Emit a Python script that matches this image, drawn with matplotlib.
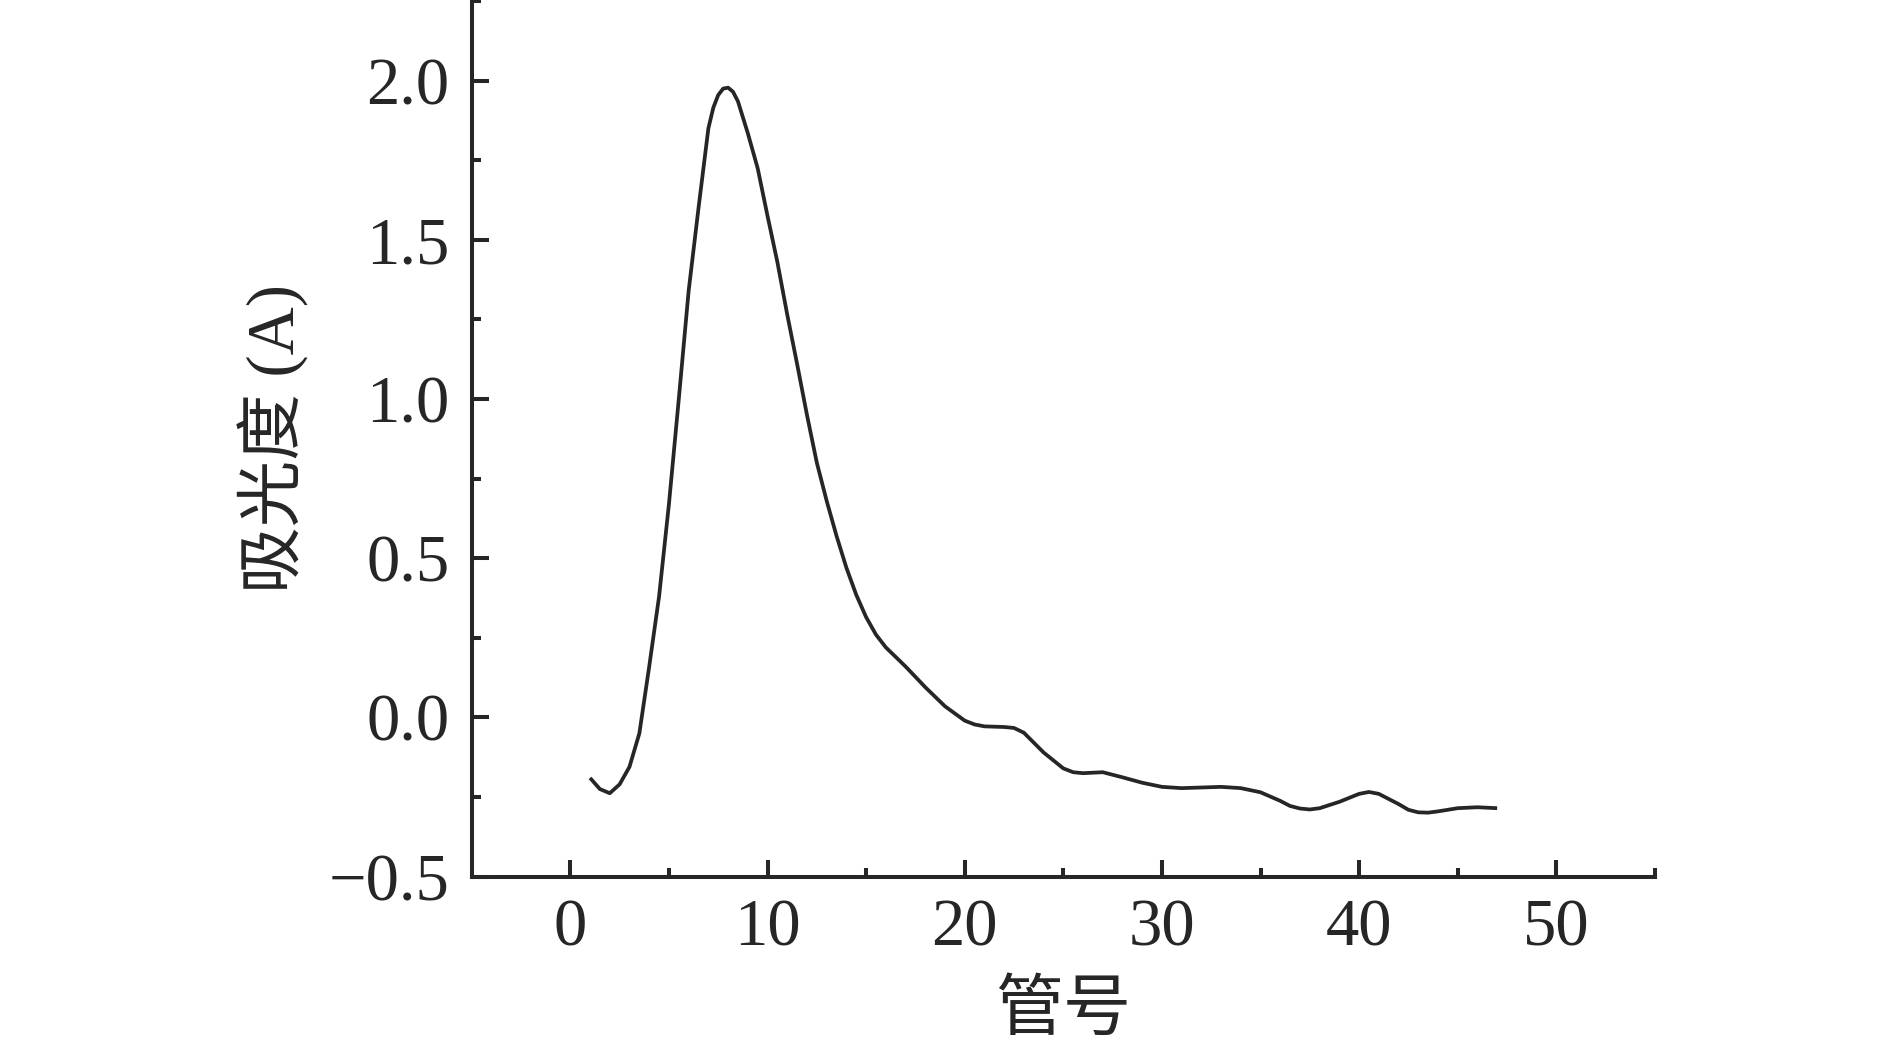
import matplotlib.pyplot as plt
from matplotlib.ticker import MultipleLocator

# tube number and absorbance
tube = [1, 1.5, 2, 2.5, 3, 3.5, 4, 4.5, 5, 5.5, 6, 6.5, 7, 7.25, 7.5, 7.75, 8, 8.25, 8.5, 9, 9.5,
        10, 10.5, 11, 11.5, 12, 12.5, 13, 13.5, 14, 14.5, 15, 15.5, 16,
        17, 18, 19, 20, 20.5, 21, 22, 22.5, 23, 24, 25, 25.5, 26, 27, 28, 29, 30, 31, 32, 33,
        34, 35, 36, 36.5, 37, 37.5, 38, 39, 40, 40.5, 41, 42, 42.5, 43, 43.5, 44, 45, 46, 47]
absorb = [-0.19, -0.225, -0.238, -0.21, -0.155, -0.05, 0.16, 0.38, 0.67, 1.0,
          1.34, 1.60, 1.85, 1.915, 1.955, 1.975, 1.978, 1.965, 1.935, 1.835, 1.725,
          1.575, 1.43, 1.265, 1.11, 0.95, 0.80, 0.68, 0.57, 0.47, 0.385, 0.315, 0.26, 0.22,
          0.16, 0.095, 0.035, -0.01, -0.022, -0.028, -0.03, -0.033, -0.048, -0.11, -0.16, -0.172,
          -0.175, -0.172, -0.188, -0.205, -0.218, -0.222, -0.22, -0.218, -0.222, -0.235, -0.262,
          -0.278, -0.286, -0.289, -0.285, -0.265, -0.24, -0.234, -0.24, -0.272, -0.29, -0.298,
          -0.299, -0.295, -0.285, -0.282, -0.285]

xticks = [0, 10, 20, 30, 40, 50]
yticks = [-0.5, 0.0, 0.5, 1.0, 1.5, 2.0]

col = '#262626'
fonts = ['Liberation Serif', 'Noto Sans CJK SC']
plt.rcParams['font.family'] = fonts
plt.rcParams['axes.unicode_minus'] = True

fig = plt.figure(figsize=(18.9, 10.48), dpi=100)
ax = fig.add_axes([0.2496, 0.1635, 0.626, 0.8355])

ax.plot(tube, absorb, color=col, lw=2.7, solid_joinstyle='round', solid_capstyle='butt')

ax.set_xlim(-5, 55)
ax.set_ylim(-0.5, 2.25)
ax.set_xticks(xticks)
ax.set_yticks(yticks)
ax.set_yticklabels(['\u22120.5', '0.0', '0.5', '1.0', '1.5', '2.0'])
ax.xaxis.set_minor_locator(MultipleLocator(5))
ax.yaxis.set_minor_locator(MultipleLocator(0.25))

for s in ['top', 'right']:
    ax.spines[s].set_visible(False)
for s in ['left', 'bottom']:
    ax.spines[s].set_linewidth(2.9)
    ax.spines[s].set_color(col)

ax.tick_params(which='major', direction='in', length=12, width=2.9, color=col,
               labelsize=48, labelcolor=col, pad=16)
ax.tick_params(which='minor', direction='in', length=6.5, width=2.9, color=col)

ax.set_xlabel('管号', fontsize=49, color=col, labelpad=15)
ax.set_ylabel('吸光度 (A)', fontsize=48, color=col, labelpad=14)

fig.savefig('out.png', dpi=100)
